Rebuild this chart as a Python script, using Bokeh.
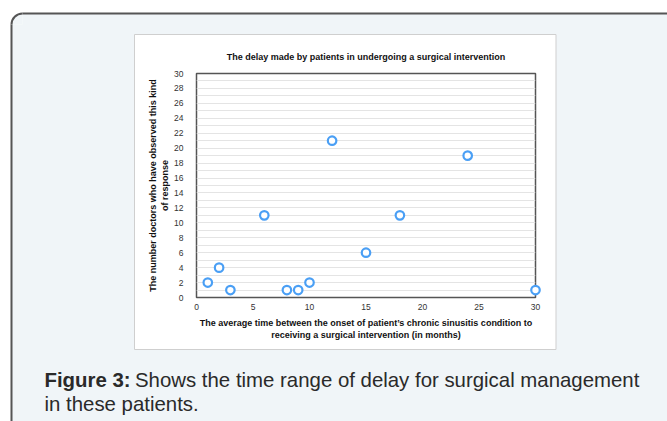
import math
from bokeh.plotting import figure
from bokeh.models import Range1d, SingleIntervalTicker, FixedTicker
from bokeh.core.properties import value
from bokeh.embed import file_html
from bokeh.resources import INLINE

# ---- data ----
months = [1, 2, 3, 6, 8, 9, 10, 12, 15, 18, 24, 30]
doctors = [2, 4, 1, 11, 1, 1, 2, 21, 6, 11, 19, 1]
x_ticks = [0, 5, 10, 15, 20, 25, 30]
y_ticks = list(range(0, 31, 2))

chart_title = "The delay made by patients in undergoing a surgical intervention"
x_label = ("The average time between the onset of patient\u2019s chronic sinusitis condition to\n"
           "receiving a surgical intervention (in months)")
y_label = "The number doctors who have observed this kind\nof response"
caption_bold = "Figure 3:"
caption_rest = "Shows the time range of delay for surgical management"
caption_line2 = "in these patients."

X_MIN, X_MAX = 0, 30
Y_MIN, Y_MAX = 0, 30

# ---- geometry (page pixels) ----
W, H = 667, 421
F_LEFT, F_RIGHT, F_TOP, F_BOTTOM = 196, 535, 73, 297

FONT = "Liberation Sans"
BLUE = "#4a9ff5"
CARD = "#f0f5f8"
CARD_LINE = "#555555"


def dx(page_x):
    return X_MIN + (page_x - F_LEFT) * (X_MAX - X_MIN) / (F_RIGHT - F_LEFT)


def dy(page_y):
    return Y_MIN + (F_BOTTOM - page_y) * (Y_MAX - Y_MIN) / (F_BOTTOM - F_TOP)


p = figure(width=W, height=H, output_backend="svg", toolbar_location=None,
           x_range=Range1d(X_MIN, X_MAX), y_range=Range1d(Y_MIN, Y_MAX),
           min_border_left=F_LEFT, min_border_right=W - F_RIGHT,
           min_border_top=F_TOP, min_border_bottom=H - F_BOTTOM,
           border_fill_color="white", background_fill_color="white",
           outline_line_color="#555555", outline_line_width=1.5,
           title=chart_title)

p.title.text_font = FONT
p.title.text_font_size = "9px"
p.title.text_font_style = "bold"
p.title.text_color = "#111111"
p.title.align = "center"
p.title.standoff = 24

for ax in (p.xaxis, p.yaxis):
    ax.axis_line_color = None
    ax.major_tick_line_color = None
    ax.minor_tick_line_color = None
    ax.major_tick_out = 0
    ax.minor_tick_out = 0
    ax.major_tick_in = 0
    ax.major_label_text_font = FONT
    ax.major_label_text_font_size = "8.5px"
    ax.major_label_text_color = "#333333"
    ax.axis_label_text_font = FONT
    ax.axis_label_text_font_size = "9px"
    ax.axis_label_text_font_style = "bold"
    ax.axis_label_text_color = "#111111"

p.xaxis.ticker = FixedTicker(ticks=x_ticks)
p.yaxis.ticker = FixedTicker(ticks=y_ticks)
p.xaxis.axis_label = x_label
p.yaxis.axis_label = y_label
p.xaxis.major_label_standoff = 6
p.xaxis.axis_label_standoff = 5
p.yaxis.major_label_standoff = 13
p.yaxis.axis_label_standoff = 1

p.xgrid.grid_line_color = None
p.ygrid.ticker = SingleIntervalTicker(interval=1)
p.ygrid.grid_line_color = "#e4e4e4"
p.ygrid.grid_line_width = 1

# ---- card around the white chart panel (painted only outside the panel) ----
LVL = "annotation"   # not clipped to the plot frame
card_l, card_t, card_r, card_b = 11, 13, 720, 470
pan_l, pan_t, pan_r, pan_b = 134, 34, 555.5, 349
R = 11  # corner radius

strips_l = [card_l, pan_r, pan_l - 1, pan_l - 1]
strips_r = [pan_l, card_r, pan_r + 1, pan_r + 1]
strips_t = [card_t, card_t, card_t, pan_b]
strips_b = [card_b, card_b, pan_t, card_b]
p.quad(left=[dx(v) for v in strips_l], right=[dx(v) for v in strips_r],
       top=[dy(v) for v in strips_t], bottom=[dy(v) for v in strips_b],
       fill_color=CARD, line_color=None, level=LVL)

# rounded top-left corner
p.quad(left=[dx(card_l - 2)], right=[dx(card_l + R)], top=[dy(card_t - 2)],
       bottom=[dy(card_t + R)], fill_color="white", line_color=None, level=LVL)
p.wedge(x=[dx(card_l + R)], y=[dy(card_t + R)], radius=R, radius_units="screen",
        start_angle=math.pi / 2, end_angle=math.pi, fill_color=CARD,
        line_color=None, level=LVL)
p.arc(x=[dx(card_l + R)], y=[dy(card_t + R)], radius=R, radius_units="screen",
      start_angle=math.pi / 2, end_angle=math.pi, line_color=CARD_LINE,
      line_width=2, level=LVL)
p.segment(x0=[dx(card_l + R), dx(card_l)], y0=[dy(card_t), dy(card_t + R)],
          x1=[dx(card_r), dx(card_l)], y1=[dy(card_t), dy(card_b)],
          line_color=CARD_LINE, line_width=2, level=LVL)

# white panel border
p.quad(left=[dx(pan_l)], right=[dx(pan_r)], top=[dy(pan_t)], bottom=[dy(pan_b)],
       fill_color=None, line_color="#cfcfcf", line_width=1, level=LVL)

# ---- data points (not clipped, so the point at x=30 shows whole) ----
p.scatter(months, doctors, marker="circle", size=8.5, line_color=BLUE,
          line_width=2.2, fill_color="white", level=LVL)

# ---- caption (drawn after the card) ----
cap_kw = dict(text_font=value(FONT), text_font_size="20.4px", text_color="#2a2a2a",
              text_baseline="alphabetic", text_align="left", level=LVL)
p.text(x=[dx(44)], y=[dy(379.5)], text=[caption_bold], text_font_style="bold", **cap_kw)
p.text(x=[dx(134.5), dx(44)], y=[dy(379.5), dy(403)], text=[caption_rest, caption_line2],
       **cap_kw)

open("out.html", "w").write(file_html(p, INLINE))
